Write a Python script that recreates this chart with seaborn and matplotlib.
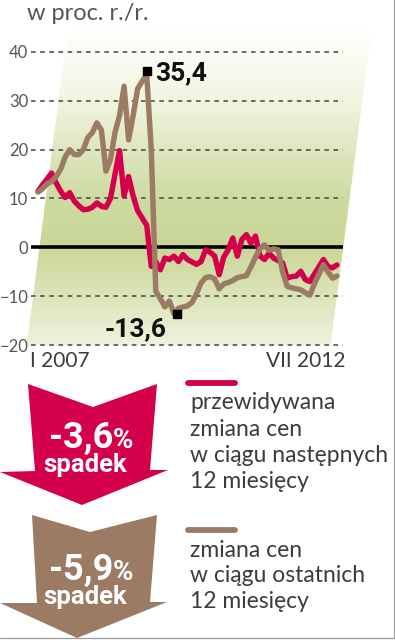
import numpy as np
import pandas as pd
import matplotlib.pyplot as plt
import seaborn as sns
from matplotlib.patches import Polygon
from matplotlib.collections import PolyCollection
from matplotlib.colors import LinearSegmentedColormap
from matplotlib.transforms import ScaledTranslation

sns.set_style("white")
plt.rcParams["font.family"] = ["Lato", "DejaVu Sans"]

# data: Jan 2007 .. Jul 2012, monthly
x_labels = ["I 2007", "VII 2012"]
expected = [11.5, 12.8, 14.0, 15.2, 13.2, 11.5, 10.2, 11.2, 9.5, 8.5,
            7.7, 7.8, 8.2, 9.1, 8.4, 8.2, 10.0, 15.0, 19.8, 10.5,
            14.5, 10.5, 7.5, 6.0, 4.5, -3.9, -2.9, -4.6, -2.2, -2.5,
            -1.8, -2.9, -1.5, -2.5, -3.0, -3.5, -2.9, -0.5, -1.0, -1.8,
            -5.6, -2.0, -0.5, 1.9, -1.8, 1.6, 2.6, 0.9, 2.3, -1.8,
            -2.5, -1.2, -2.2, -2.7, -3.2, -6.3, -6.0, -5.9, -4.9, -6.6,
            -7.0, -5.5, -4.0, -2.5, -3.9, -4.2, -3.6]
realized = [11.3, 12.0, 13.0, 13.5, 14.5, 16.0, 18.5, 20.0, 19.0, 19.0,
            20.0, 22.5, 23.5, 25.5, 24.0, 15.6, 18.0, 23.5, 27.0, 33.0,
            22.0, 27.0, 32.5, 34.0, 35.4, 20.0, -9.0, -10.5, -12.2, -11.0,
            -13.6, -12.5, -12.2, -12.0, -11.3, -9.5, -7.3, -6.2, -6.0, -6.5,
            -8.5, -7.5, -7.2, -6.8, -6.2, -6.0, -5.8, -4.0, -2.0, -0.3,
            0.5, -0.6, -0.3, -0.5, -5.0, -8.0, -8.3, -8.5, -8.7, -9.3,
            -9.8, -7.5, -5.5, -3.6, -5.0, -6.3, -5.9]
y_ticks = [-20, -10, 0, 10, 20, 30, 40]
unit_label = "w proc. r./r."
legend_expected = ["przewidywana", "zmiana cen", "w ciągu następnych", "12 miesięcy"]
legend_realized = ["zmiana cen", "w ciągu ostatnich", "12 miesięcy"]
arrow_word = "spadek"

RED = "#d5004b"
BROWN = "#9c7b65"
TXT = "#3c3c3c"
BOLD_FAM = ["Roboto", "DejaVu Sans"]

df = pd.DataFrame({"month": np.arange(len(expected)),
                   "expected": expected, "realized": realized})

W, H = 395, 640
fig = plt.figure(figsize=(W / 100, H / 100), dpi=100)

# chart axes: month 0 at x=38px, 66 at 337px; 40 at y=52px, -20 at y=345px
px_m = 299 / 66
px_v = 293 / 60
x0, x1 = -7 / px_m, 305 / px_m
y0, y1 = -21, 41
ax = fig.add_axes([(38 + x0 * px_m) / W, 1 - (345 + 1 * px_v) / H,
                   (x1 - x0) * px_m / W, 62 * px_v / H])
ax.set_xlim(x0, x1)
ax.set_ylim(y0, y1)
ax.patch.set_visible(False)

# slanted gradient background
cmap = LinearSegmentedColormap.from_list(
    "bg", [(0.0, "#eef2dc"), (0.15, "#dbe4b8"), (0.31, "#c8d594"),
           (0.46, "#cddaa0"), (0.62, "#dfe7bf"), (0.77, "#f1f4df"), (1.0, "#ffffff")])
slant = 0.14
levels = np.linspace(-20, 45, 200)
polys, cols = [], []
for a, b in zip(levels[:-1], levels[1:]):
    la, lb = -2.4 + slant * (a + 20), -2.4 + slant * (b + 20)
    ra, rb = 64.5 + slant * (a + 20), 64.5 + slant * (b + 20)
    polys.append([(la, a), (ra, a), (rb, b), (lb, b)])
    cols.append(cmap((a + 20) / 65))
pc = PolyCollection(polys, facecolors=cols, edgecolors=cols, linewidths=0.4,
                    clip_on=False, zorder=0)
ax.add_collection(pc)

ax.set_yticks(y_ticks)
ax.set_xticks([])
ax.yaxis.grid(True, linestyle=(0, (3, 3)), color="#444444", linewidth=1.1, zorder=1)
ax.tick_params(axis="y", length=0, pad=2, labelsize=12, labelcolor="#555555")
ax.axhline(0, color="black", linewidth=2.6, zorder=2)
for s in ax.spines.values():
    s.set_visible(False)

sns.lineplot(data=df, x="month", y="expected", color=RED, linewidth=3.9, ax=ax,
             zorder=3, solid_joinstyle="round", solid_capstyle="round")
sns.lineplot(data=df, x="month", y="realized", color=BROWN, linewidth=3.9, ax=ax,
             zorder=4, solid_joinstyle="round", solid_capstyle="round")
ax.set_xlabel("")
ax.set_ylabel("")
ax.set_xlim(x0, x1)
ax.set_ylim(y0, y1)

# x end labels
ax.annotate(x_labels[0], xy=(0, -20), xytext=(-8, -6), textcoords="offset pixels",
            ha="left", va="top", fontsize=15, color=TXT)
ax.annotate(x_labels[1], xy=(len(expected) - 1, -20), xytext=(8, -6),
            textcoords="offset pixels", ha="right", va="top", fontsize=15, color=TXT)

# max / min callouts
def fmt(v):
    return f"{v:.1f}".replace(".", ",")

imax = int(np.argmax(realized))
imin = int(np.argmin(realized))
off = lambda dx, dy: ax.transData + ScaledTranslation(dx / 100, dy / 100, fig.dpi_scale_trans)
ax.scatter([imax], [realized[imax]], marker="s", s=30, color="black",
           transform=off(0, 3), zorder=5, clip_on=False)
ax.annotate(fmt(realized[imax]), xy=(imax, realized[imax]), xytext=(8, 1),
            textcoords="offset pixels", ha="left", va="center", fontsize=19,
            fontweight="bold", family=BOLD_FAM, color="#111111")
ax.scatter([imin], [realized[imin]], marker="s", s=30, color="black",
           transform=off(3, 0), zorder=5, clip_on=False)
ax.annotate(fmt(realized[imin]), xy=(imin, realized[imin]), xytext=(-7, -15),
            textcoords="offset pixels", ha="right", va="center", fontsize=19,
            fontweight="bold", family=BOLD_FAM, color="#111111")

# overlay in pixel coordinates for the lower panel
ov = fig.add_axes([0, 0, 1, 1])
ov.set_xlim(0, W)
ov.set_ylim(H, 0)
ov.axis("off")

ov.text(27, 20, unit_label, fontsize=17, color="#555555", va="baseline", ha="left")

red_arrow = [(28, 384), (93, 407), (157, 384), (150, 470), (168, 470),
             (82, 505), (0, 472), (35, 471)]
brown_arrow = [(32, 515), (90, 532), (157, 515), (150, 602), (167, 602),
               (77, 638), (0, 603), (37, 603)]
ov.add_patch(Polygon(red_arrow, closed=True, facecolor=RED, edgecolor="none"))
ov.add_patch(Polygon(brown_arrow, closed=True, facecolor=BROWN, edgecolor="none"))

for last, base in [(expected[-1], 448), (realized[-1], 580)]:
    ov.text(113, base, fmt(last), fontsize=26, fontweight="bold", family=BOLD_FAM,
            color="white", ha="right", va="baseline")
    ov.text(113, base, "%", fontsize=20, fontweight="bold", family=BOLD_FAM,
            color="white", ha="left", va="baseline")
    ov.text(85, base + 24, arrow_word, fontsize=18.5, fontweight="bold", family=BOLD_FAM,
            color="white", ha="center", va="baseline")

ov.plot([188, 235], [383, 383], color=RED, linewidth=4.2, solid_capstyle="round")
ov.plot([188, 235], [530, 530], color=BROWN, linewidth=4.2, solid_capstyle="round")
for k, line in enumerate(legend_expected):
    ov.text(190, 409 + 26.5 * k, line, fontsize=16.5, color=TXT, va="baseline", ha="left")
for k, line in enumerate(legend_realized):
    ov.text(190, 557 + 25.5 * k, line, fontsize=16.5, color=TXT, va="baseline", ha="left")

# frame lines at right and bottom
ov.plot([394, 394], [0, 638], color="#9a9a9a", linewidth=0.9)
ov.plot([0, 394], [638, 638], color="#9a9a9a", linewidth=0.9)

fig.savefig("out.png", dpi=100)
